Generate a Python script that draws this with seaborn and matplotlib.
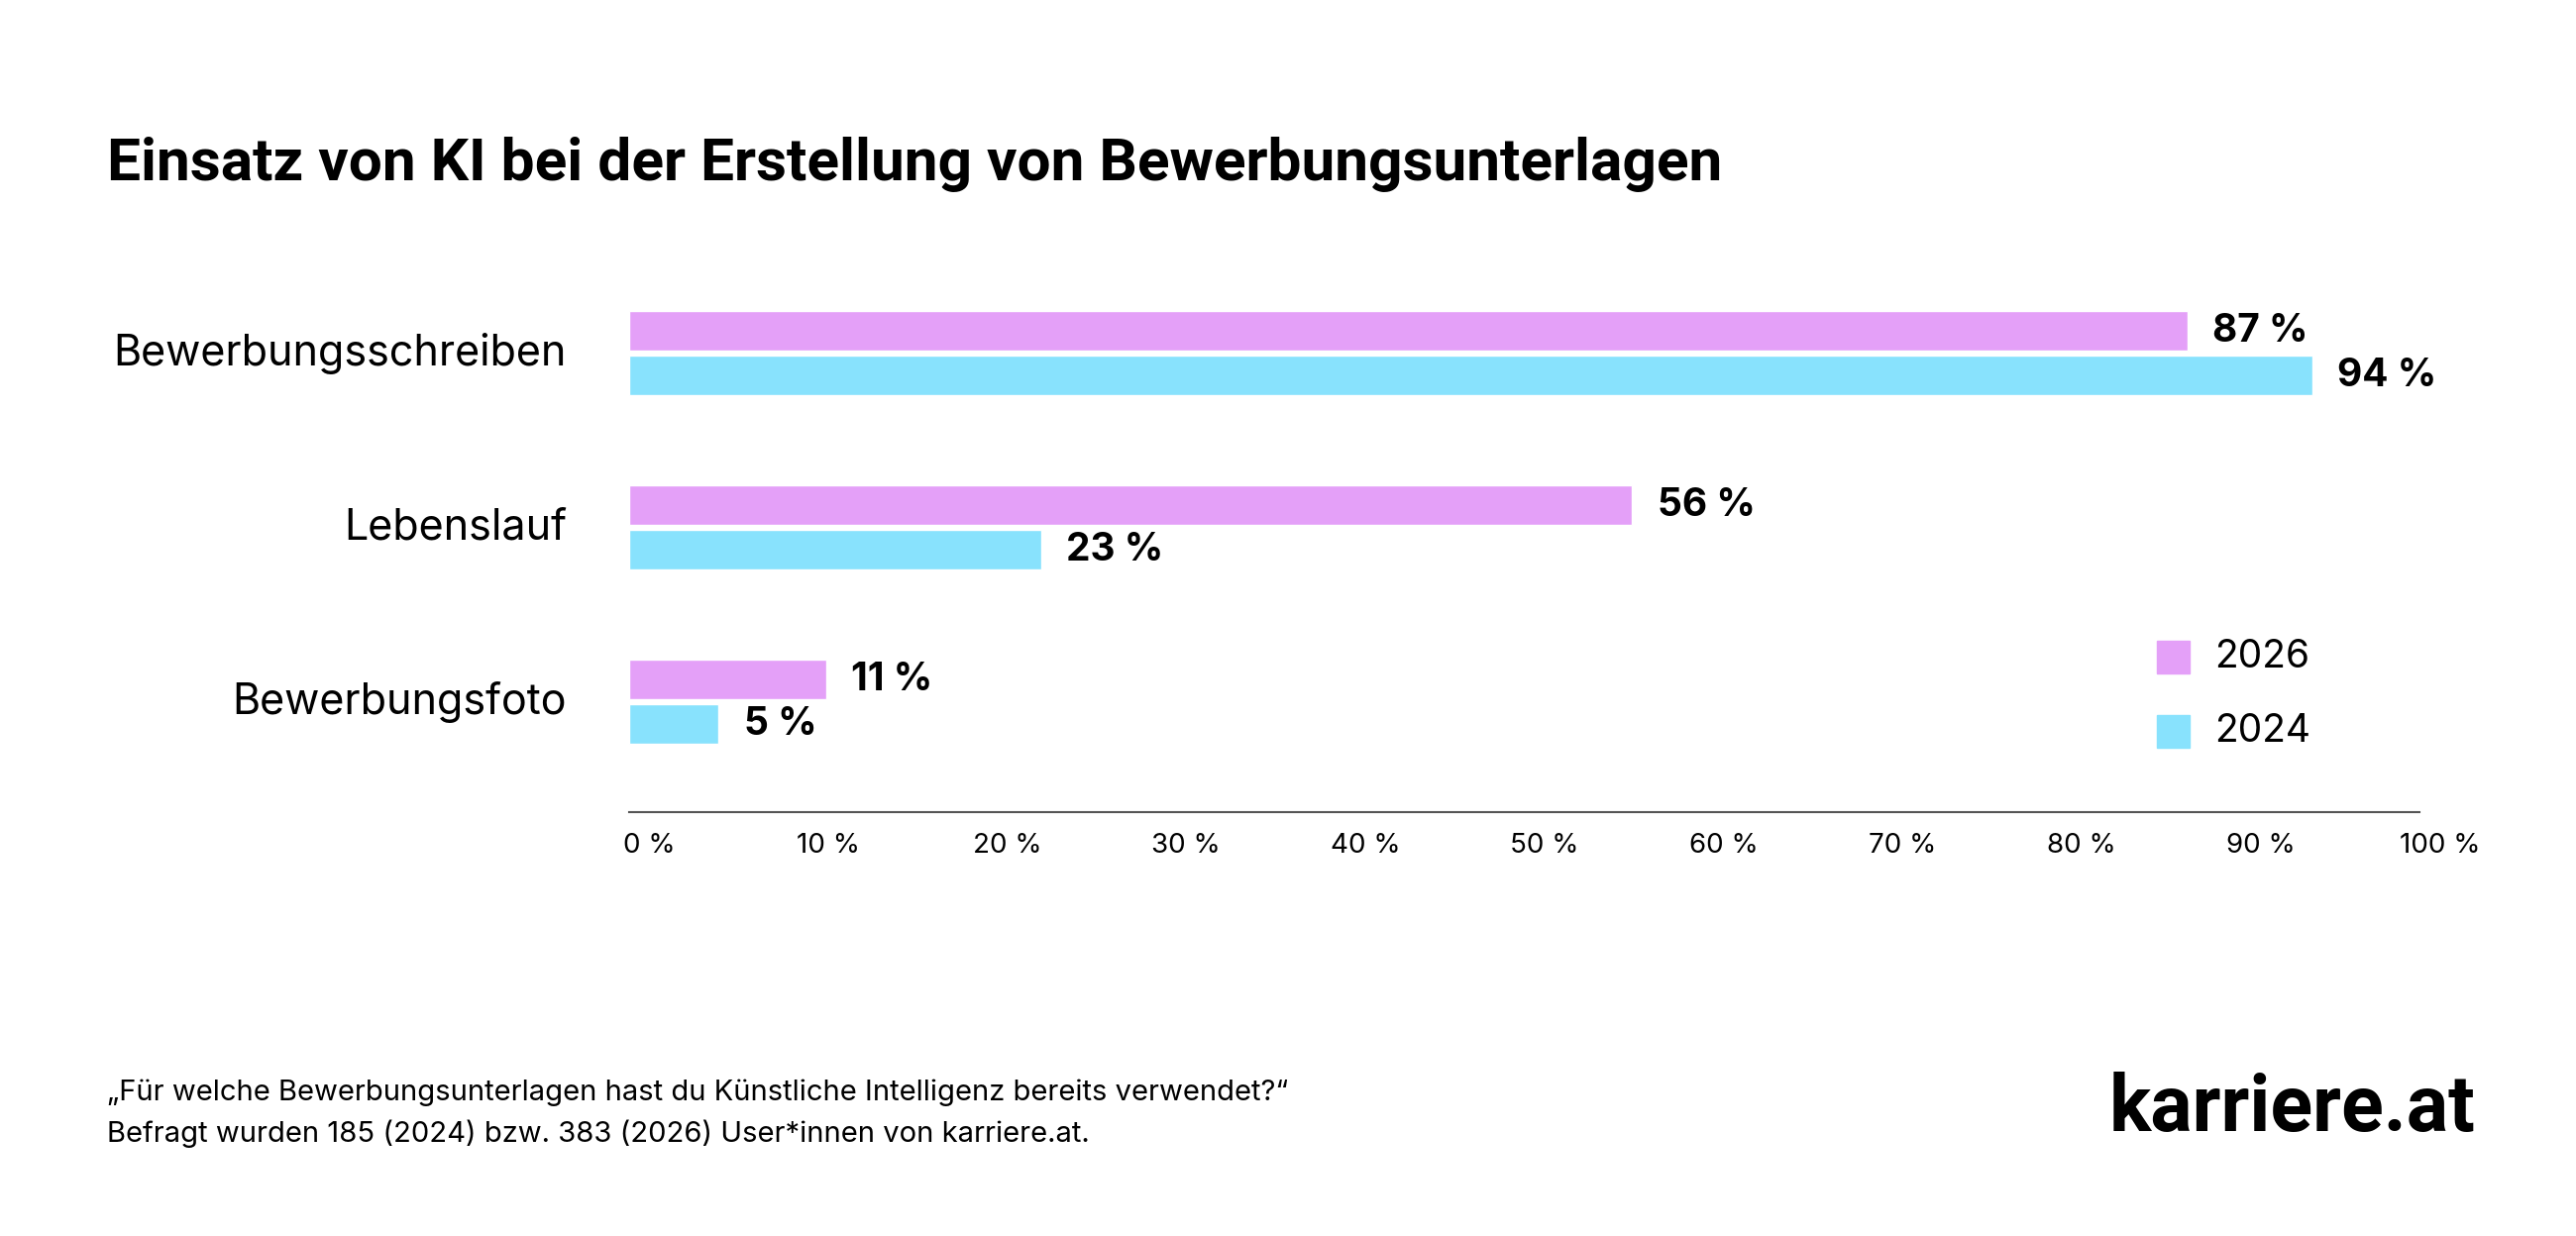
import matplotlib
matplotlib.use("Agg")
import matplotlib.pyplot as plt
import seaborn as sns
import pandas as pd

# Data
categories = ["Bewerbungsschreiben", "Lebenslauf", "Bewerbungsfoto"]
years = ["2026", "2024"]
values_2026 = [87, 56, 11]
values_2024 = [94, 23, 5]
xticks = [0, 10, 20, 30, 40, 50, 60, 70, 80, 90, 100]
colors = {"2026": "#e4a0f8", "2024": "#88e2fd"}

df = pd.DataFrame({
    "Kategorie": categories * 2,
    "Jahr": ["2026"] * 3 + ["2024"] * 3,
    "Wert": values_2026 + values_2024,
})

sns.set_theme(style="white")
plt.rcParams["font.family"] = ["Inter", "DejaVu Sans"]
plt.rcParams["text.color"] = "black"

W, H = 1568, 752  # reference layout units
fig = plt.figure(figsize=(26, 12.48), dpi=100)
ax = fig.add_axes([383 / W, 1 - 494 / H, (1473 - 383) / W, (494 - 170) / H])

sns.barplot(data=df, y="Kategorie", x="Wert", hue="Jahr", hue_order=years,
            palette=colors, orient="h", width=0.51, gap=0.11, ax=ax,
            legend=False, saturation=1)

ax.set_xlim(0, 100)
ax.set_ylim(2.632, -0.425)
ax.set_xlabel("")
ax.set_ylabel("")
ax.set_xticks([])
ax.set_yticks([])
for s in ["top", "right", "left"]:
    ax.spines[s].set_visible(False)
ax.spines["bottom"].set_color("#555555")
ax.spines["bottom"].set_linewidth(1.5)

# value labels
for bars in ax.containers:
    for b in bars:
        v = b.get_width()
        ax.text(v + 1.4, b.get_y() + b.get_height() / 2, f"{v:.0f} %",
                va="center", ha="left", fontsize=28, fontweight="bold")

# category labels
for i, c in enumerate(categories):
    ax.text(-3.5, i, c, ha="right", va="center", fontsize=31)

# x tick labels
for t in xticks:
    ax.text(t + 1.1, -0.04, f"{t} %", transform=ax.get_xaxis_transform(),
            ha="center", va="top", fontsize=20)

# legend
for yr, yy in zip(years, [400, 445]):
    fig.patches.append(plt.Rectangle((1313 / W, 1 - (yy + 10) / H), 20 / W, 20 / H,
                                     transform=fig.transFigure, color=colors[yr]))
    fig.text(1348 / W, 1 - yy / H, yr, ha="left", va="center", fontsize=28)

# title
fig.text(65 / W, 1 - 100 / H, "Einsatz von KI bei der Erstellung von Bewerbungsunterlagen",
         ha="left", va="center", fontsize=43.5, fontweight="bold",
         family=["Roboto", "DejaVu Sans"])

# footer
fig.text(65 / W, 1 - 665 / H,
         "\u201eFür welche Bewerbungsunterlagen hast du Künstliche Intelligenz bereits verwendet?\u201c",
         ha="left", va="center", fontsize=21)
fig.text(65 / W, 1 - 690 / H,
         "Befragt wurden 185 (2024) bzw. 383 (2026) User*innen von karriere.at.",
         ha="left", va="center", fontsize=21)
fig.text(1507 / W, 1 - 675 / H, "karriere.at", ha="right", va="center",
         fontsize=57, fontweight="bold", family=["Roboto", "DejaVu Sans"])

fig.savefig("out.png", dpi=100, facecolor="white")
